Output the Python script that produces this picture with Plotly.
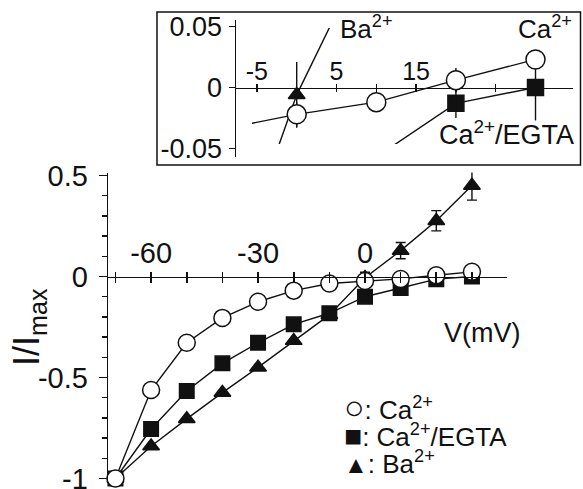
import plotly.graph_objects as go

W, H = 583, 489

# ---------------- data ----------------
voltage = [-70, -60, -50, -40, -30, -20, -10, 0, 10, 20, 30]
ca = [-1.0, -0.562, -0.328, -0.205, -0.125, -0.070, -0.035, -0.022, -0.012, 0.006, 0.023]
ca_err = [0, 0, 0, 0, 0, 0, 0, 0.010, 0.005, 0.010, 0.008]
egta = [-1.0, -0.755, -0.567, -0.430, -0.328, -0.237, -0.182, -0.100, -0.057, -0.013, 0.0]
egta_err = [0, 0, 0, 0, 0, 0, 0, 0.010, 0.008, 0.012, 0.027]
ba = [-1.0, -0.840, -0.705, -0.575, -0.450, -0.318, -0.190, -0.006, 0.128, 0.276, 0.450]
ba_err = [0, 0, 0, 0, 0, 0, 0, 0.027, 0.040, 0.050, 0.072]

main_xtickvals = [-60, -30, 0, 40]
main_xticktext = ["-60", "-30", "0", "30"]
main_xminor = [-70, -50, -40, -20, -10, 10, 20, 30]
main_ytickvals = [-1, -0.5, 0, 0.5]
main_yticktext = ["-1", "-0.5", "0", "0.5"]
main_yminor = [-0.9, -0.8, -0.7, -0.6, -0.4, -0.3, -0.2, -0.1, 0.1, 0.2, 0.3, 0.4]
inset_xtickvals = [-5, 5, 15]
inset_xticktext = ["-5", "5", "15"]
inset_xminor = [0, 10, 20, 25, 30]
inset_ytickvals = [-0.05, 0, 0.05]
inset_yticktext = ["-0.05", "0", "0.05"]

FONT = "Liberation Sans, Arial, Helvetica, sans-serif"
BLACK = "#111111"


def fx(p):
    return p / W


def fy(p):
    return 1 - p / H


# main plot geometry (pixels)
M_X0, M_X1 = 108.3, 507.3
M_ZERO_MV, M_PX_PER_MV = 365.0, 3.565
M_ZERO_I, M_PX_PER_I = 276.5, 202.0
M_YTOP, M_YBOT = 172.5, 480.5

# inset geometry (pixels)
I_ZERO_MV, I_PX_PER_MV = 296.7, 7.96
I_ZERO_I, I_PX_PER_I = 87.5, 1220.0
I_X0, I_X1 = 236.0, 573.0
I_YTOP, I_YBOT = 20.0, 157.0
C_X0, C_YTOP, C_YBOT = 252.0, 28.0, 144.0


def mv_main(p):
    return (p - M_ZERO_MV) / M_PX_PER_MV


def i_main(p):
    return (M_ZERO_I - p) / M_PX_PER_I


def mv_in(p):
    return (p - I_ZERO_MV) / I_PX_PER_MV


def i_in(p):
    return (I_ZERO_I - p) / I_PX_PER_I


fig = go.Figure()

series = [
    ("ba", ba, ba_err, "triangle-up", BLACK, 14.5, 14.5),
    ("egta", egta, egta_err, "square", BLACK, 14.5, 16),
    ("ca", ca, ca_err, "circle", "white", 17, 19),
]

# main plot traces
for name, vals, err, sym, fill, msize, _ in series:
    fig.add_trace(go.Scatter(
        x=voltage, y=vals, mode="lines+markers", xaxis="x", yaxis="y",
        line=dict(color=BLACK, width=1.4),
        marker=dict(symbol=sym, size=msize, color=fill, line=dict(color=BLACK, width=1.5)),
        error_y=dict(type="data", array=err, visible=True, color=BLACK, thickness=1.4, width=5),
        cliponaxis=False, showlegend=False, hoverinfo="skip",
    ))

# tick-only overlay axis for the main plot, and the visible inset axes
fig.add_trace(go.Scatter(x=[None], y=[None], xaxis="x4", yaxis="y", showlegend=False, hoverinfo="skip"))
fig.add_trace(go.Scatter(x=[None], y=[None], xaxis="x2", yaxis="y2", showlegend=False, hoverinfo="skip"))
fig.add_trace(go.Scatter(x=[None], y=[None], xaxis="x5", yaxis="y2", showlegend=False, hoverinfo="skip"))

# inset data (clipped region): lines then markers
for name, vals, err, sym, fill, _, isize in series:
    fig.add_trace(go.Scatter(
        x=voltage, y=vals, mode="lines", xaxis="x3", yaxis="y3",
        line=dict(color=BLACK, width=1.4), showlegend=False, hoverinfo="skip",
    ))
for name, vals, err, sym, fill, _, isize in series:
    fig.add_trace(go.Scatter(
        x=voltage, y=vals, mode="markers", xaxis="x3", yaxis="y3",
        marker=dict(symbol=sym, size=isize, color=fill, line=dict(color=BLACK, width=1.5)),
        error_y=dict(type="data", array=err, visible=True, color=BLACK, thickness=1.4, width=0),
        cliponaxis=True, showlegend=False, hoverinfo="skip",
    ))

axis_common = dict(showgrid=False, zeroline=False, color=BLACK, linecolor=BLACK,
                   tickcolor=BLACK, fixedrange=True, automargin=False,
                   ticklabeloverflow="allow")

fig.update_layout(
    template="none",
    width=W, height=H,
    margin=dict(l=0, r=0, t=0, b=0, pad=0, autoexpand=False),
    paper_bgcolor="white", plot_bgcolor="rgba(0,0,0,0)",
    font=dict(family=FONT, color=BLACK),
    showlegend=False,
    xaxis=dict(**axis_common,
               domain=[fx(M_X0), fx(M_X1)], range=[mv_main(M_X0), mv_main(M_X1)],
               anchor="free", position=fy(M_ZERO_I), side="top",
               showline=True, linewidth=1.6, ticks="outside", ticklen=5, tickwidth=1.6,
               tickmode="array", tickvals=main_xtickvals, ticktext=main_xticktext,
               tickfont=dict(size=29, family=FONT), ticklabelstandoff=-3,
               minor=dict(tickmode="array", tickvals=main_xminor, ticks="outside",
                          ticklen=5, tickwidth=1.6, tickcolor=BLACK, showgrid=False)),
    xaxis4=dict(**axis_common, overlaying="x",
                range=[mv_main(M_X0), mv_main(M_X1)],
                anchor="free", position=fy(M_ZERO_I), side="bottom",
                showline=False, ticks="outside", ticklen=5, tickwidth=1.6,
                tickmode="array", tickvals=main_xtickvals, showticklabels=False,
                minor=dict(tickmode="array", tickvals=main_xminor, ticks="outside",
                           ticklen=5, tickwidth=1.6, tickcolor=BLACK, showgrid=False)),
    yaxis=dict(**axis_common,
               domain=[fy(M_YBOT), fy(M_YTOP)], range=[i_main(M_YBOT), i_main(M_YTOP)],
               anchor="x", side="left",
               showline=True, linewidth=1.6, ticks="outside", ticklen=8, tickwidth=1.6,
               tickmode="array", tickvals=main_ytickvals, ticktext=main_yticktext,
               tickfont=dict(size=29, family=FONT), ticklabelstandoff=5,
               minor=dict(tickmode="array", tickvals=main_yminor, ticks="outside",
                          ticklen=5, tickwidth=1.5, tickcolor=BLACK, showgrid=False)),
    # visible inset axes
    xaxis2=dict(**axis_common,
                domain=[fx(I_X0), fx(I_X1)], range=[mv_in(I_X0), mv_in(I_X1)],
                anchor="free", position=fy(I_ZERO_I), side="top",
                showline=True, linewidth=1.5, ticks="outside", ticklen=3.5, tickwidth=1.5,
                tickmode="array", tickvals=inset_xtickvals, ticktext=inset_xticktext,
                tickfont=dict(size=25, family=FONT), ticklabelstandoff=-6,
                minor=dict(tickmode="array", tickvals=inset_xminor, ticks="outside",
                           ticklen=3.5, tickwidth=1.5, tickcolor=BLACK, showgrid=False)),
    xaxis5=dict(**axis_common, overlaying="x2",
                range=[mv_in(I_X0), mv_in(I_X1)],
                anchor="free", position=fy(I_ZERO_I), side="bottom",
                showline=False, ticks="outside", ticklen=3.5, tickwidth=1.5,
                tickmode="array", tickvals=inset_xtickvals, showticklabels=False,
                minor=dict(tickmode="array", tickvals=inset_xminor, ticks="outside",
                           ticklen=3.5, tickwidth=1.5, tickcolor=BLACK, showgrid=False)),
    yaxis2=dict(**axis_common,
                domain=[fy(I_YBOT), fy(I_YTOP)], range=[i_in(I_YBOT), i_in(I_YTOP)],
                anchor="x2", side="left",
                showline=True, linewidth=1.5, ticks="outside", ticklen=6, tickwidth=1.5,
                tickmode="array", tickvals=inset_ytickvals, ticktext=inset_yticktext,
                tickfont=dict(size=27, family=FONT), ticklabelstandoff=1),
    # inset data region (clipped)
    xaxis3=dict(visible=False, domain=[fx(C_X0), fx(I_X1)], range=[mv_in(C_X0), mv_in(I_X1)],
                anchor="y3", fixedrange=True, automargin=False),
    yaxis3=dict(visible=False, domain=[fy(C_YBOT), fy(C_YTOP)], range=[i_in(C_YBOT), i_in(C_YTOP)],
                anchor="x3", fixedrange=True, automargin=False),
)

# inset frame
fig.add_shape(type="rect", xref="paper", yref="paper",
              x0=fx(157), x1=fx(580.5), y0=fy(165), y1=fy(12),
              line=dict(color=BLACK, width=1.5), fillcolor="rgba(0,0,0,0)")

ann = []
ann.append(dict(text="V(mV)", x=fx(482), y=fy(333), font=dict(size=27)))
ann.append(dict(text="I/I<sub>max</sub>", x=fx(29), y=fy(327), textangle=-90, font=dict(size=36)))
ann.append(dict(text="Ba<sup>2+</sup>", x=fx(366), y=fy(27), font=dict(size=26)))
ann.append(dict(text="Ca<sup>2+</sup>", x=fx(545), y=fy(28), font=dict(size=26)))
ann.append(dict(text="Ca<sup>2+</sup>/EGTA", x=fx(507), y=fy(133), font=dict(size=27)))

legend_rows = [
    ("○", 34, "Ca<sup>2+</sup>"),
    ("■", 30, "Ca<sup>2+</sup>/EGTA"),
    ("▲", 24, "Ba<sup>2+</sup>"),
]
legend_y = [407, 435, 462]
for (sym, ssize, label), yy in zip(legend_rows, legend_y):
    ann.append(dict(text=f"<span style='font-size:{ssize}px'>{sym}</span>: {label}",
                    x=fx(342), y=fy(yy), xanchor="left", font=dict(size=26)))

for a in ann:
    a.setdefault("xanchor", "center")
    a.update(xref="paper", yref="paper", yanchor="middle", showarrow=False)
    a["font"] = dict(family=FONT, color=BLACK, **a["font"])
    fig.add_annotation(**a)

fig.write_html(
    "out.html",
    config={"displayModeBar": False, "staticPlot": True},
    post_script="document.body.style.margin='0px';document.body.style.padding='0px';"
                "document.body.style.overflow='hidden';",
)
